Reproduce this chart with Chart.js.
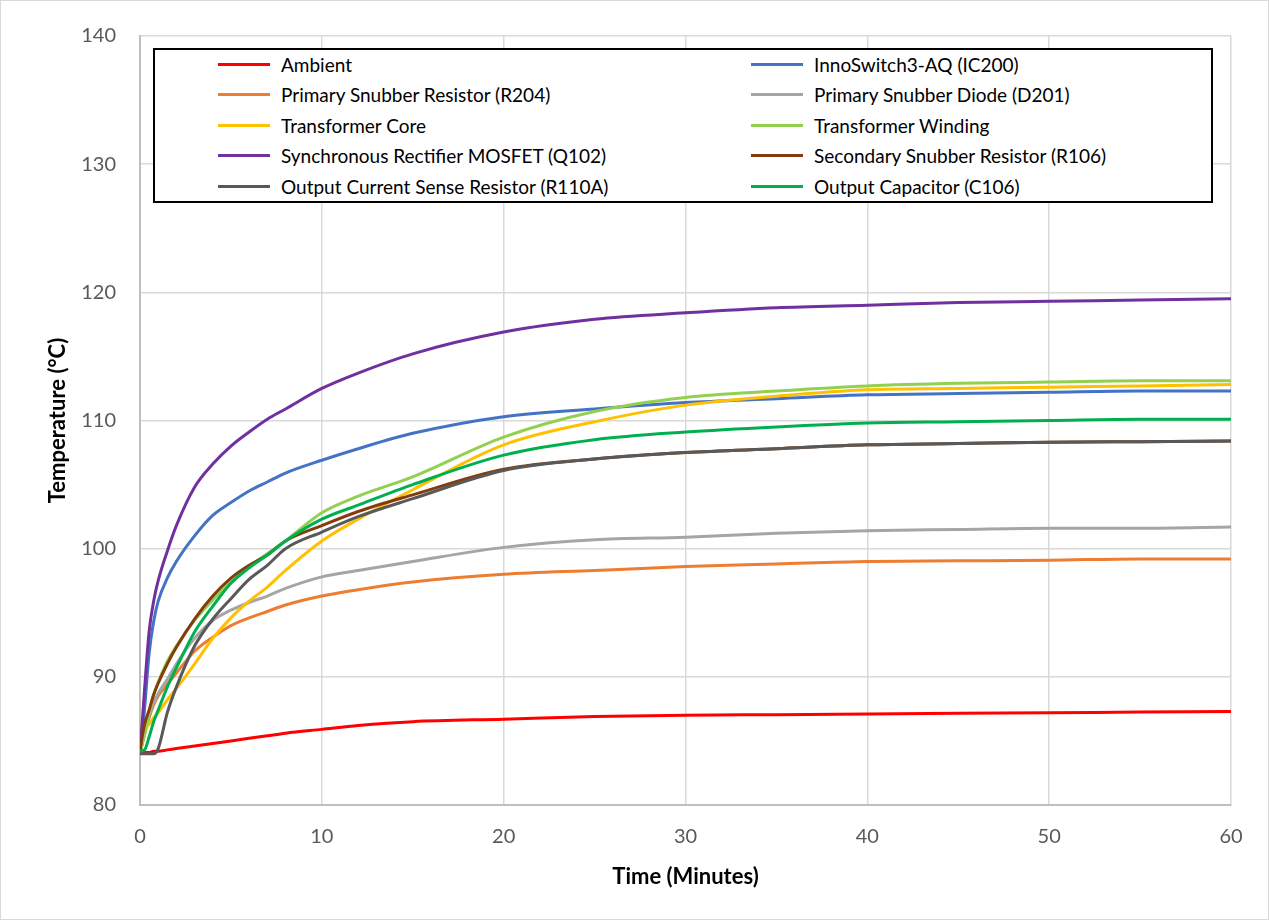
<!DOCTYPE html>
<html>
<head>
<meta charset="utf-8">
<script src="https://cdn.jsdelivr.net/npm/chart.js@4/dist/chart.umd.min.js"></script>
<style>
    body { margin: 0; background: #fff; }
    #wrap { position: relative; width: 1269px; height: 920px; }
    #wrap canvas { display: block; }
    #frame { position: absolute; left: 0; top: 0; width: 1267px; height: 918px; border: 1px solid #d9d9d9; pointer-events: none; }
    #legend {
        position: absolute; left: 153px; top: 48px; width: 1056px; height: 151px;
        border: 2px solid #000; background: #fff;
        font-family: Lato, "Open Sans", sans-serif; font-size: 19px; color: #000;
    }
    .item { position: absolute; height: 30px; display: flex; align-items: center; white-space: nowrap; }
    .swatch { width: 52px; height: 3px; margin-right: 11px; }
</style>
</head>
<body>
<div id="wrap">
    <canvas id="tempChart" width="1269" height="920"></canvas>
    <div id="legend"></div>
    <div id="frame"></div>
</div>
<script>
    // Time axis (minutes) for the sampled readings
    const times = [0, 0.25, 0.5, 0.75, 1, 1.5, 2, 3, 4, 5, 6, 7, 8, 10, 12, 15, 20, 25, 30, 35, 40, 45, 50, 55, 60];

    // Temperatures in °C, one array per probe
    const ambient     = [84.1, 84.1, 84.1, 84.2, 84.2, 84.3, 84.4, 84.6, 84.8, 85.0, 85.2, 85.4, 85.6, 85.9, 86.2, 86.5, 86.7, 86.9, 87.0, 87.05, 87.1, 87.15, 87.2, 87.25, 87.3];
    const innoSwitch  = [84.0, 87.5, 91.8, 94.3, 95.9, 97.7, 99.0, 101.0, 102.6, 103.6, 104.5, 105.2, 105.9, 106.9, 107.8, 109.0, 110.3, 110.9, 111.4, 111.7, 112.0, 112.1, 112.2, 112.3, 112.3];
    const snubberRes  = [84.0, 85.5, 86.8, 87.8, 88.5, 89.4, 90.3, 92.0, 93.1, 94.0, 94.6, 95.1, 95.6, 96.3, 96.8, 97.4, 98.0, 98.3, 98.6, 98.8, 99.0, 99.05, 99.1, 99.2, 99.2];
    const snubberDiode= [84.0, 85.6, 87.0, 88.0, 88.7, 89.8, 91.0, 93.0, 94.4, 95.2, 95.8, 96.3, 96.9, 97.8, 98.3, 99.0, 100.1, 100.7, 100.9, 101.2, 101.4, 101.5, 101.6, 101.6, 101.7];
    const xfmrCore    = [85.9, 86.0, 86.3, 86.8, 87.2, 88.2, 89.1, 91.0, 93.0, 94.6, 95.9, 97.0, 98.3, 100.6, 102.3, 104.6, 108.1, 109.9, 111.2, 111.9, 112.4, 112.5, 112.6, 112.7, 112.8];
    const xfmrWinding = [84.2, 85.5, 87.2, 88.6, 89.6, 91.2, 92.4, 94.4, 96.0, 97.4, 98.6, 99.6, 100.6, 102.8, 104.1, 105.6, 108.7, 110.7, 111.8, 112.3, 112.7, 112.9, 113.0, 113.1, 113.1];
    const srMosfet    = [84.0, 89.0, 93.5, 95.9, 97.5, 99.8, 101.8, 104.8, 106.6, 108.0, 109.1, 110.1, 110.9, 112.5, 113.7, 115.2, 116.9, 117.9, 118.4, 118.8, 119.0, 119.2, 119.3, 119.4, 119.5];
    const secSnubber  = [84.3, 86.3, 87.4, 88.6, 89.5, 91.0, 92.3, 94.5, 96.3, 97.7, 98.7, 99.5, 100.6, 101.8, 102.9, 104.2, 106.2, 107.0, 107.5, 107.8, 108.1, 108.2, 108.3, 108.35, 108.4];
    const senseRes    = [84.0, 84.0, 84.0, 84.0, 84.4, 87.2, 89.2, 92.4, 94.5, 96.1, 97.6, 98.7, 100.0, 101.3, 102.5, 103.9, 106.1, 107.0, 107.5, 107.8, 108.1, 108.2, 108.3, 108.35, 108.4];
    const outputCap   = [84.2, 84.3, 85.3, 86.5, 87.4, 89.2, 90.7, 93.5, 95.5, 97.3, 98.5, 99.5, 100.6, 102.3, 103.4, 105.0, 107.3, 108.5, 109.1, 109.5, 109.8, 109.9, 110.0, 110.1, 110.1];

    const seriesNames = [
        'Ambient', 'InnoSwitch3-AQ (IC200)',
        'Primary Snubber Resistor (R204)', 'Primary Snubber Diode (D201)',
        'Transformer Core', 'Transformer Winding',
        'Synchronous Rectifier MOSFET (Q102)', 'Secondary Snubber Resistor (R106)',
        'Output Current Sense Resistor (R110A)', 'Output Capacitor (C106)'
    ];
    const seriesValues = [ambient, innoSwitch, snubberRes, snubberDiode, xfmrCore, xfmrWinding, srMosfet, secSnubber, senseRes, outputCap];
    const seriesColors = ['#ff0000', '#4472c4', '#ed7d31', '#a5a5a5', '#ffc000', '#92d050', '#7030a0', '#843c0c', '#595959', '#00b050'];

    const yTicks = [80, 90, 100, 110, 120, 130, 140];
    const xTicks = [0, 10, 20, 30, 40, 50, 60];

    const datasets = seriesNames.map((name, i) => ({
        label: name,
        data: times.map((t, j) => ({ x: t, y: seriesValues[i][j] })),
        borderColor: seriesColors[i],
        backgroundColor: seriesColors[i],
        borderWidth: 3,
        pointRadius: 0,
        cubicInterpolationMode: 'monotone',
        // later series sit on top, like the spreadsheet
        order: seriesNames.length - i
    }));

    const tickFont = { family: 'Lato', size: 20 };
    const titleFont = { family: 'Lato', size: 22, weight: 'bold' };

    new Chart(document.getElementById('tempChart'), {
        type: 'line',
        data: { datasets: datasets },
        options: {
            responsive: false,
            animation: false,
            devicePixelRatio: 1,
            layout: { padding: { top: 26, right: 38, left: 0, bottom: 0 } },
            plugins: {
                legend: { display: false },
                tooltip: { enabled: false }
            },
            scales: {
                x: {
                    type: 'linear',
                    min: xTicks[0],
                    max: xTicks[xTicks.length - 1],
                    afterBuildTicks: s => { s.ticks = xTicks.map(v => ({ value: v })); },
                    afterFit: s => { s.height = 115; },
                    grid: { color: '#d9d9d9', lineWidth: 1.5, drawTicks: false },
                    border: { color: '#bfbfbf', width: 2 },
                    ticks: { color: '#595959', font: tickFont, padding: 20, maxRotation: 0 },
                    title: { display: true, text: 'Time (Minutes)', color: '#000', font: titleFont, padding: { top: 0, bottom: 30 } }
                },
                y: {
                    min: yTicks[0],
                    max: yTicks[yTicks.length - 1],
                    afterBuildTicks: s => { s.ticks = yTicks.map(v => ({ value: v })); },
                    afterFit: s => { s.width = 140; },
                    grid: { color: '#d9d9d9', lineWidth: 1.5, drawTicks: false },
                    border: { color: '#bfbfbf', width: 2 },
                    ticks: { color: '#595959', font: tickFont, padding: 24 },
                    title: { display: true, text: 'Temperature (°C)', color: '#000', font: titleFont, padding: { top: 45, bottom: 0 } }
                }
            }
        }
    });

    // Two-column legend box inside the plot, like the original
    const legend = document.getElementById('legend');
    seriesNames.forEach((name, i) => {
        const item = document.createElement('div');
        item.className = 'item';
        item.style.left = (i % 2 === 0 ? 63 : 596) + 'px';
        item.style.top = (Math.floor(i / 2) * 30.6 - 1) + 'px';
        item.innerHTML = '<span class="swatch" style="background:' + seriesColors[i] + '"></span><span>' + name + '</span>';
        legend.appendChild(item);
    });
</script>
</body>
</html>
